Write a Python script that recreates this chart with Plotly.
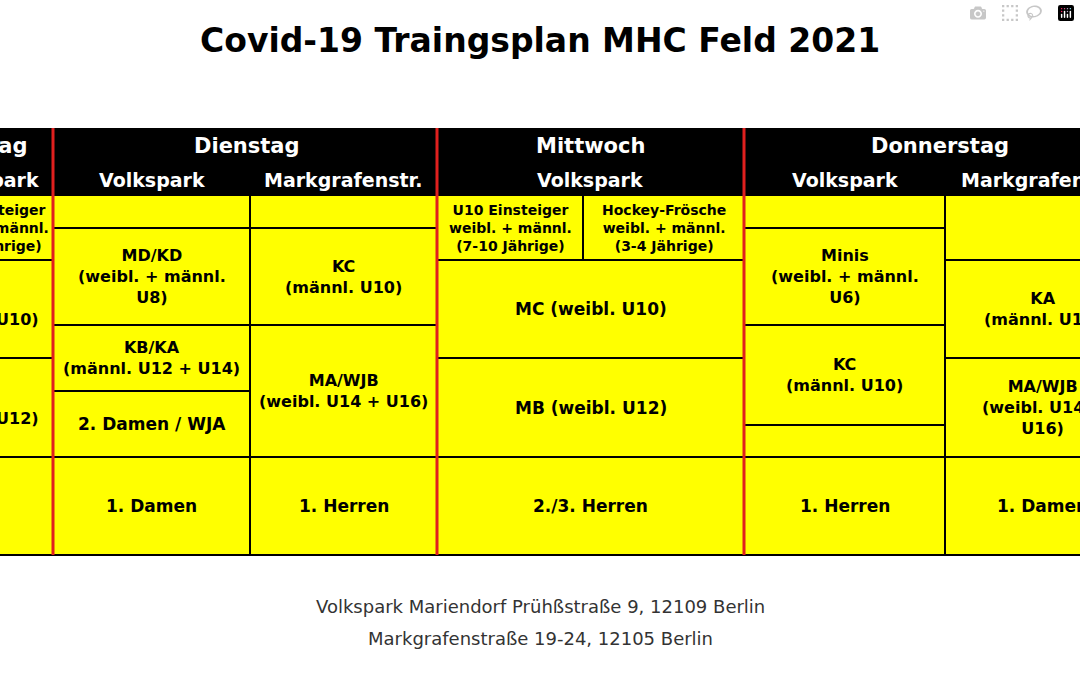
import plotly.graph_objects as go

title = "Covid-19 Traingsplan MHC Feld 2021"
days = ["Montag", "Dienstag", "Mittwoch", "Donnerstag"]
venues = [("Volkspark", 152), ("Markgrafenstr.", 343), ("Volkspark", 590),
          ("Volkspark", 845), ("Markgrafenstr.", 1040)]
day_centers = [247, 590, 940]
footer = ["Volkspark Mariendorf Prühßstraße 9, 12109 Berlin", "Markgrafenstraße 19-24, 12105 Berlin"]

# partially visible Monday column (right-anchored at the visible edge)
monday = [(195, 260, "U10 Einsteiger<br>weibl. + männl.<br>(7-10 Jährige)", 14, 51),
          (260, 358, "MC<br>(weibl. U10)", 16, 41),
          (358, 457, "MB<br>(weibl. U12)", 16, 41)]

# cells: (x0, x1, y0, y1, label, fontsize)
cells = [
    (-150, 53, 195, 260, "", 16),
    (-150, 53, 260, 358, "", 16),
    (-150, 53, 358, 457, "", 16),
    (-150, 53, 457, 555, "", 16),
    (53, 250, 195, 228, "", 16),
    (53, 250, 228, 325, "MD/KD<br>(weibl. + männl.<br>U8)", 16),
    (53, 250, 325, 391, "KB/KA<br>(männl. U12 + U14)", 16),
    (53, 250, 391, 457, "2. Damen / WJA", 17),
    (53, 250, 457, 555, "1. Damen", 17),
    (250, 437, 195, 228, "", 16),
    (250, 437, 228, 325, "KC<br>(männl. U10)", 16),
    (250, 437, 325, 457, "MA/WJB<br>(weibl. U14 + U16)", 16),
    (250, 437, 457, 555, "1. Herren", 17),
    (437, 583, 195, 260, "U10 Einsteiger<br>weibl. + männl.<br>(7-10 Jährige)", 14),
    (583, 744, 195, 260, "Hockey-Frösche<br>weibl. + männl.<br>(3-4 Jährige)", 14),
    (437, 744, 260, 358, "MC (weibl. U10)", 17),
    (437, 744, 358, 457, "MB (weibl. U12)", 17),
    (437, 744, 457, 555, "2./3. Herren", 17),
    (744, 945, 195, 228, "", 16),
    (744, 945, 228, 325, "Minis<br>(weibl. + männl.<br>U6)", 16),
    (744, 945, 325, 425, "KC<br>(männl. U10)", 16),
    (744, 945, 425, 457, "", 16),
    (744, 945, 457, 555, "1. Herren", 17),
    (945, 1140, 195, 260, "", 16),
    (945, 1140, 260, 358, "KA<br>(männl. U14)", 16),
    (945, 1140, 358, 457, "MA/WJB<br>(weibl. U14 +<br>U16)", 16),
    (945, 1140, 457, 555, "1. Damen", 17),
]
red_lines = [53, 437, 744]

fig = go.Figure()
fig.add_trace(go.Scatter(x=[0, 1080], y=[0, 675], mode="markers", marker=dict(opacity=0), hoverinfo="skip"))
shapes, ann = [], []
F = "DejaVu Sans"
shapes.append(dict(type="rect", x0=-200, x1=1200, y0=128, y1=195, fillcolor="black", line=dict(width=0)))
for x0, x1, y0, y1, lab, fs in cells:
    shapes.append(dict(type="rect", x0=x0, x1=x1, y0=y0, y1=y1, fillcolor="#ffff00",
                       line=dict(color="black", width=2)))
    if lab:
        ann.append(dict(x=(x0 + x1) / 2, y=(y0 + y1) / 2, text="<b>" + lab + "</b>", showarrow=False,
                        font=dict(family=F, size=fs, color="black"), xanchor="center", yanchor="middle"))
for y0, y1, lab, fs, xr in monday:
    ann.append(dict(x=xr, y=(y0 + y1) / 2, text="<b>" + lab + "</b>", showarrow=False,
                    font=dict(family=F, size=fs, color="black"), xanchor="right", yanchor="middle"))
for x in red_lines:
    shapes.append(dict(type="line", x0=x, x1=x, y0=128, y1=555, line=dict(color="#e0201e", width=3)))
ann.append(dict(x=30, y=146, text="<b>" + days[0] + "</b>", showarrow=False, xanchor="right",
                font=dict(family=F, size=21, color="white")))
ann.append(dict(x=41, y=180, text="<b>Volkspark</b>", showarrow=False, xanchor="right",
                font=dict(family=F, size=19, color="white")))
for d, c in zip(days[1:], day_centers):
    ann.append(dict(x=c, y=146, text="<b>" + d + "</b>", showarrow=False,
                    font=dict(family=F, size=21, color="white")))
for v, c in venues:
    ann.append(dict(x=c, y=180, text="<b>" + v + "</b>", showarrow=False,
                    font=dict(family=F, size=19, color="white")))
ann.append(dict(x=540, y=40, text="<b>" + title + "</b>", showarrow=False,
                font=dict(family=F, size=33, color="black")))
for i, t in enumerate(footer):
    ann.append(dict(x=540, y=606 + 32 * i, text=t, showarrow=False,
                    font=dict(family=F, size=18, color="#333333")))

fig.update_layout(width=1080, height=675, margin=dict(l=0, r=0, t=0, b=0),
                  plot_bgcolor="white", paper_bgcolor="white", showlegend=False,
                  shapes=shapes, annotations=ann,
                  xaxis=dict(range=[0, 1080], visible=False, fixedrange=True),
                  yaxis=dict(range=[675, 0], visible=False, fixedrange=True))
fig.write_html("out.html", post_script="document.body.style.margin='0';")
